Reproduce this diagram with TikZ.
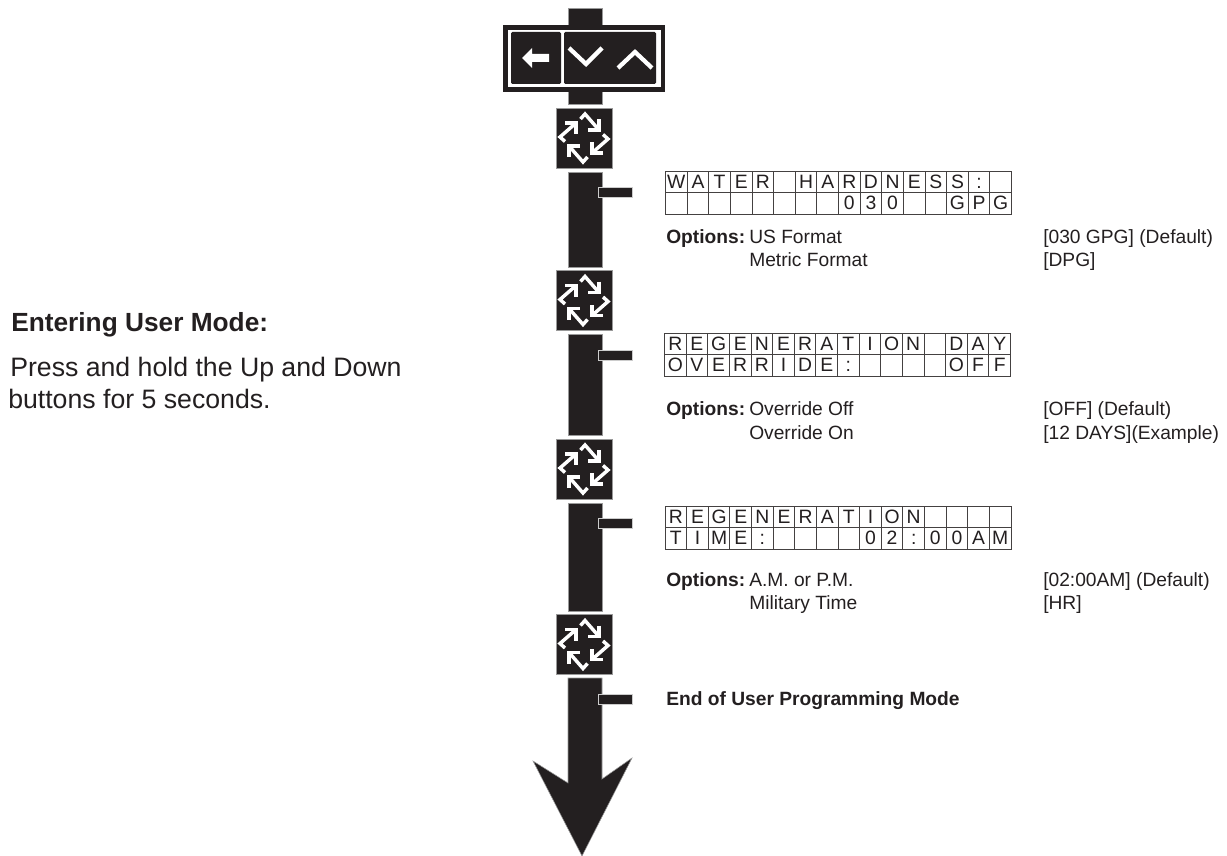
\documentclass[tikz,border=0pt]{standalone}
\usepackage{xcolor}
\usepackage{fontspec}
\setmainfont{Liberation Sans}
\usepackage{tikz}
\usetikzlibrary{positioning}

\definecolor{inkblack}{HTML}{231F20}

\tikzset{
    post/.style={fill=inkblack, draw=black!40, line width=0.4pt},
    tick/.style={fill=inkblack, draw=black!20, line width=0.7pt},
    whiteline/.style={draw=white, line width=2.6pt, line join=miter, line cap=butt},
    lcdline/.style={draw=inkblack!85, line width=0.75pt},
    lcdchar/.style={anchor=base, inner sep=0pt, text=inkblack, font=\fontsize{14.5}{14.5}\selectfont},
    bodytext/.style={anchor=base west, inner sep=0pt, text=inkblack, font=\fontsize{14.4}{14.4}\selectfont},
    bodybold/.style={bodytext, font=\fontsize{14.4}{14.4}\selectfont\bfseries},
    introtext/.style={anchor=base west, inner sep=0pt, text=inkblack, font=\fontsize{20}{20}\selectfont},
    introbold/.style={introtext, font=\fontsize{19.7}{19.7}\selectfont\bfseries},
    cycleicon/.pic={
        \fill[inkblack, draw=black!40, line width=0.4pt] (-28,-30) rectangle (28,30);
        \foreach \r in {0,90,180,270} {
            \begin{scope}[rotate=\r]
                \draw[whiteline] (-3.5,-19) -- (1,-24) -- (15,-8);
                \draw[whiteline] (15,-19) -- (15,-8) -- (4,-8);
            \end{scope}
        }
    }
}

% one display: name, top edge, first row, second row
\newcommand{\lcdpanel}[5]{
    \draw[lcdline] (#2,#3) rectangle ({#2+346},{#3+43});
    \draw[lcdline] (#2,{#3+21.5}) -- ({#2+346},{#3+21.5});
    \foreach \col in {1,...,15} {
        \draw[lcdline] ({#2+\col*21.625},#3) -- ({#2+\col*21.625},{#3+43});
    }
    \foreach \col/\ch in {#4} {
        \node[lcdchar] (#1top\col) at ({#2+(\col-0.5)*21.625},{#3+17.2}) {\ch};
    }
    \foreach \col/\ch in {#5} {
        \node[lcdchar] (#1bot\col) at ({#2+(\col-0.5)*21.625},{#3+38.8}) {\ch};
    }
}

\begin{document}
\begin{tikzpicture}[x=0.75pt, y=-0.75pt]
    \useasboundingbox (0,0) rectangle (1227,856);

    % left note
    \node[introbold] (entering) at (11,331) {Entering User Mode:};
    \node[introtext] (press) at (10,376) {Press and hold the Up and Down};
    \node[introtext] (buttons) at (8,408) {buttons for 5 seconds.};

    % post
    \draw[post] (568,8) rectangle (602,104);
    \draw[post] (568,172) rectangle (602,267);
    \draw[post] (568,334) rectangle (602,435);
    \draw[post] (568,503) rectangle (602,611);
    \draw[post] (568,678) -- (602,678) -- (602,779) -- (632,758) -- (582,856)
        -- (533,761) -- (568,783) -- cycle;

    % buttons
    \fill[inkblack] (503,25) rectangle (665,92);
    \fill[white] (508,30) rectangle (661,87);
    \fill[
        inkblack,
        rounded corners=1pt
    ] (511,32) rectangle (561,84);
    \fill[
        inkblack,
        rounded corners=1pt
    ] (564,32) rectangle (656,84);
    \fill[white] (522,58) -- (532,48) -- (532,54) -- (549,54) -- (549,62) -- (532,62) -- (532,68) -- cycle;
    \draw[whiteline, line width=3.2pt] (569,48) -- (586,64) -- (602,48);
    \draw[whiteline, line width=3.2pt] (618,68) -- (635,52) -- (652,68);

    % cycle icons
    \pic at (584,138) {cycleicon};
    \pic at (584,300.5) {cycleicon};
    \pic at (584,469) {cycleicon};
    \pic at (584,644.5) {cycleicon};

    % ticks
    \draw[tick] (598,187) rectangle (632,197);
    \draw[tick] (598,350) rectangle (632,360);
    \draw[tick] (598,518) rectangle (632,528);
    \draw[tick] (598,694) rectangle (632,704);

    % displays
    \lcdpanel{hard}{665.5}{171}
        {1/W,2/A,3/T,4/E,5/R,7/H,8/A,9/R,10/D,11/N,12/E,13/S,14/S,15/:}
        {9/0,10/3,11/0,14/G,15/P,16/G}
    \lcdpanel{day}{664.5}{333}
        {1/R,2/E,3/G,4/E,5/N,6/E,7/R,8/A,9/T,10/I,11/O,12/N,14/D,15/A,16/Y}
        {1/O,2/V,3/E,4/R,5/R,6/I,7/D,8/E,9/:,14/O,15/F,16/F}
    \lcdpanel{time}{665}{506}
        {1/R,2/E,3/G,4/E,5/N,6/E,7/R,8/A,9/T,10/I,11/O,12/N}
        {1/T,2/I,3/M,4/E,5/:,10/0,11/2,12/:,13/0,14/0,15/A,16/M}

    % options
    \node[bodybold] (optA) at (666,243) {Options:};
    \node[bodytext] (optAa) at (749,243) {US Format};
    \node[bodytext] (optAb) at (749,266.5) {Metric Format};
    \node[bodytext] (valAa) at (1043,243) {[030 GPG] (Default)};
    \node[bodytext] (valAb) at (1043,266.5) {[DPG]};

    \node[bodybold] (optB) at (666,415) {Options:};
    \node[bodytext] (optBa) at (749,415) {Override Off};
    \node[bodytext] (optBb) at (749,439) {Override On};
    \node[bodytext] (valBa) at (1043,415) {[OFF] (Default)};
    \node[bodytext] (valBb) at (1043,439) {[12 DAYS](Example)};

    \node[bodybold] (optC) at (666,586) {Options:};
    \node[bodytext] (optCa) at (749,586) {A.M. or P.M.};
    \node[bodytext] (optCb) at (749,609) {Military Time};
    \node[bodytext] (valCa) at (1043,586) {[02:00AM] (Default)};
    \node[bodytext] (valCb) at (1043,609) {[HR]};

    \node[bodybold] (endmode) at (666,705) {End of User Programming Mode};
\end{tikzpicture}
\end{document}
